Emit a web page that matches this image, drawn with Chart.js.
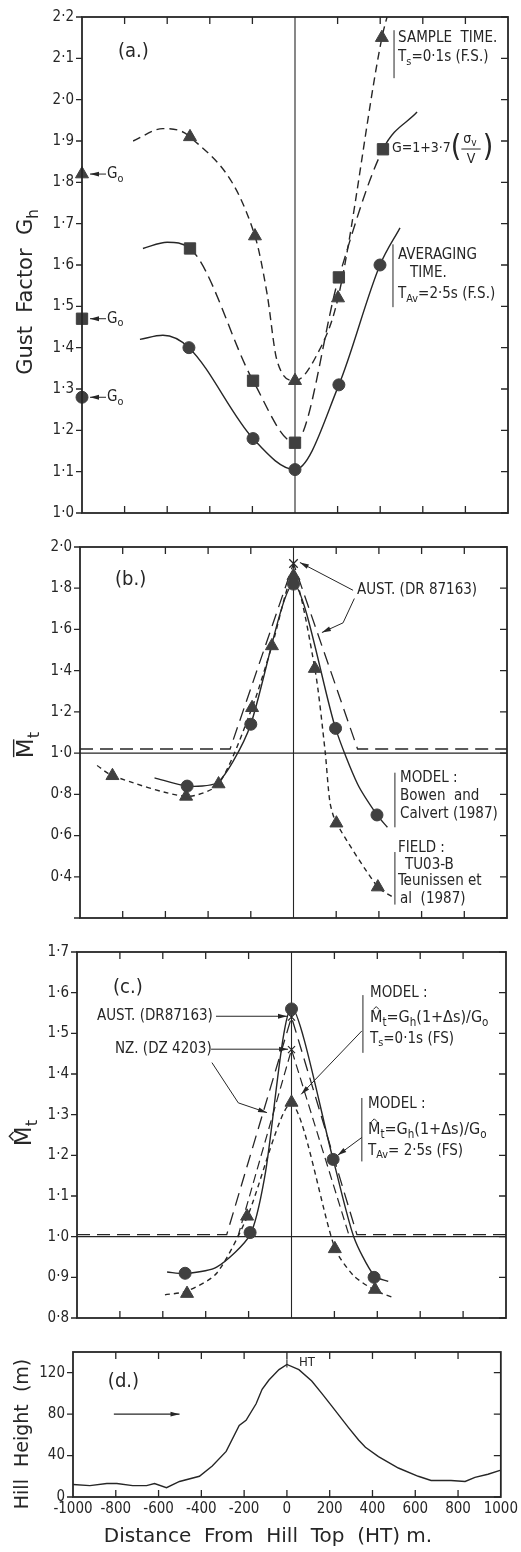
<!DOCTYPE html>
<html>
<head>
<meta charset="utf-8">
<script src="https://cdn.jsdelivr.net/npm/chart.js@4"></script>
<style>
  html, body { margin: 0; padding: 0; background: #fff; }
  #wrap { position: relative; width: 521px; height: 1552px; overflow: hidden; }
  #wrap canvas { position: absolute; left: 0; }
</style>
</head>
<body>
<div id="wrap">
  <canvas id="pa" width="521" height="530" style="top:0px"></canvas>
  <canvas id="pb" width="521" height="405" style="top:530px"></canvas>
  <canvas id="pc" width="521" height="400" style="top:935px"></canvas>
  <canvas id="pd" width="521" height="217" style="top:1335px"></canvas>
</div>
<script>
// distance from hill top (m), shared by all four panels
const distTicks = [-1000, -800, -600, -400, -200, 0, 200, 400, 600, 800, 1000];

// (a) gust factor Gh
const aSampleX = [-493, -188, 0, 202, 408];          // triangles, Ts = 0.1 s
const aSampleY = [1.91, 1.67, 1.32, 1.52, 2.15];
const aSampleCurve = [[-760, 1.90], [-620, 1.93], [-493, 1.91], [-188, 1.67], [-131, 1.53], [-85, 1.37],
  [0, 1.32], [100, 1.38], [202, 1.52], [408, 2.15], [432, 2.20]];
const aGustX = [-493, -197, 0, 206, 413];            // squares, G = 1 + 3.7 sv/V
const aGustY = [1.64, 1.32, 1.17, 1.57, 1.88];
const aGustCurve = [[-714, 1.64], [-600, 1.655], [-493, 1.64], [-197, 1.32], [0, 1.17], [206, 1.57],
  [413, 1.88], [573, 1.97]];
const aAvgX = [-498, -197, 0, 206, 399];             // circles, TAv = 2.5 s
const aAvgY = [1.40, 1.18, 1.105, 1.31, 1.60];
const aAvgCurve = [[-728, 1.42], [-620, 1.43], [-498, 1.40], [-197, 1.18], [0, 1.105], [206, 1.31],
  [399, 1.60], [493, 1.69]];
const aGo = [1.82, 1.47, 1.28];                      // Go of triangle, square, circle

// (b) mean speed-up Mt
const bModelX = [-498, -200, 0, 197, 391];
const bModelY = [0.84, 1.14, 1.82, 1.12, 0.70];
const bModelCurve = [[-651, 0.88], [-498, 0.84], [-360, 0.855], [-283, 0.96], [-200, 1.14], [0, 1.82],
  [197, 1.12], [300, 0.85], [391, 0.70], [440, 0.64]];
const bFieldX = [-848, -503, -351, -194, -101, 0, 100, 201, 395];
const bFieldY = [0.89, 0.79, 0.85, 1.22, 1.52, 1.86, 1.41, 0.66, 0.35];
const bFieldCurve = [[-920, 0.94], [-848, 0.89], [-503, 0.79], [-351, 0.85], [-194, 1.22], [-101, 1.52],
  [0, 1.86], [100, 1.41], [148, 1.01], [171, 0.76], [201, 0.66], [395, 0.35], [467, 0.30]];
const bAust = [[-1000, 1.02], [-297, 1.02], [0, 1.92], [300, 1.02], [1000, 1.02]];

// (c) gust speed-up Mt hat
const cAvgX = [-496, -193, 0, 194, 385];
const cAvgY = [0.91, 1.01, 1.56, 1.19, 0.90];
const cAvgCurve = [[-580, 0.913], [-496, 0.909], [-349, 0.925], [-193, 1.005], [-124, 1.15], [0, 1.563],
  [194, 1.19], [290, 1.0], [385, 0.904], [451, 0.89]];
const cSampX = [-487, -207, 0, 202, 389];
const cSampY = [0.86, 1.05, 1.33, 0.97, 0.87];
const cSampCurve = [[-590, 0.857], [-487, 0.866], [-349, 0.91], [-207, 1.048], [0, 1.327], [202, 0.972],
  [288, 0.905], [389, 0.868], [474, 0.85]];
const cAust = [[-1000, 1.005], [-302, 1.005], [0, 1.54], [305, 1.005], [1000, 1.005]];
const cNz = [[-250, 1.0], [0, 1.46], [270, 1.0]];

// (d) hill height profile (m)
const dHill = [[-1000, 12], [-921, 11], [-842, 13], [-795, 13], [-721, 11], [-656, 11], [-619, 13], [-563, 9],
  [-502, 15], [-409, 20], [-349, 30], [-284, 44], [-223, 69], [-191, 74], [-144, 90], [-116, 104], [-84, 113],
  [-37, 123], [0, 128], [56, 123], [116, 112], [163, 100], [209, 88], [288, 67], [335, 55], [367, 48],
  [428, 39], [521, 28], [614, 20], [674, 16], [767, 16], [833, 15], [879, 19], [940, 22], [1000, 26]];
const dTicksY = [0, 40, 80, 120];

const INK = '#262626';
const MARK = '#404040';
const FAM = "'DejaVu Sans Condensed', 'DejaVu Sans', sans-serif";
const TFAM = "'DejaVu Sans', sans-serif";
Chart.defaults.font.family = FAM;
Chart.defaults.color = INK;

const pts = arr => arr.map(([x, y]) => ({ x, y }));
const zip = (xs, ys) => xs.map((x, i) => ({ x, y: ys[i] }));
const dec = v => v.toFixed(1).replace('.', '·');
const innerTicks = distTicks.filter(v => Math.abs(v) < 1000 && v !== 0);
const TXT = 15;

function curve(data, dash, extra) {
  return Object.assign({
    data: pts(data), showLine: true, borderColor: INK, borderWidth: 1.4, borderDash: dash,
    pointRadius: 0, fill: false, tension: 0.25
  }, extra);
}
function marks(data, style, r) {
  return { data, showLine: false, pointStyle: style, pointRadius: r, backgroundColor: MARK,
    borderColor: MARK, borderWidth: 1, clip: false };
}

function rich(ctx, x, y, parts, size, align, fam) {
  const family = fam || FAM;
  const fs = p => (p[1] ? size * 0.72 : size) + 'px ' + family;
  const widths = parts.map(p => { ctx.font = fs(p); return ctx.measureText(p[0]).width; });
  const total = widths.reduce((a, b) => a + b, 0);
  let cx = align === 'center' ? x - total / 2 : x;
  ctx.textBaseline = 'middle';
  ctx.textAlign = 'left';
  parts.forEach((p, i) => {
    ctx.font = fs(p);
    ctx.fillText(p[0], cx, y + (p[1] ? size * 0.32 : 0));
    const w = widths[i];
    if (p[2] === 'hat') {
      ctx.beginPath();
      ctx.moveTo(cx + w / 2 - size * 0.18, y - size * 0.5);
      ctx.lineTo(cx + w / 2, y - size * 0.68);
      ctx.lineTo(cx + w / 2 + size * 0.18, y - size * 0.5);
      ctx.stroke();
    } else if (p[2] === 'bar') {
      ctx.beginPath();
      ctx.moveTo(cx + 1, y - size * 0.58);
      ctx.lineTo(cx + w - 1, y - size * 0.58);
      ctx.stroke();
    }
    cx += w;
  });
  return total;
}

function yTitle(ctx, cx, cy, parts, size) {
  ctx.save();
  ctx.translate(cx, cy);
  ctx.rotate(-Math.PI / 2);
  ctx.lineWidth = 1.4;
  rich(ctx, 0, 0, parts, size, 'center', TFAM);
  ctx.restore();
}

function arrow(ctx, x1, y1, x2, y2) {
  ctx.beginPath(); ctx.moveTo(x1, y1); ctx.lineTo(x2, y2); ctx.stroke();
  const a = Math.atan2(y2 - y1, x2 - x1), L = 9, W = 2.4;
  ctx.beginPath();
  ctx.moveTo(x2, y2);
  ctx.lineTo(x2 - L * Math.cos(a) + W * Math.sin(a), y2 - L * Math.sin(a) - W * Math.cos(a));
  ctx.lineTo(x2 - L * Math.cos(a) - W * Math.sin(a), y2 - L * Math.sin(a) + W * Math.cos(a));
  ctx.closePath(); ctx.fill();
}
function leader(ctx, path) {
  ctx.beginPath();
  ctx.moveTo(path[0][0], path[0][1]);
  for (let i = 1; i < path.length - 1; i++) ctx.lineTo(path[i][0], path[i][1]);
  ctx.stroke();
  const n = path.length;
  arrow(ctx, path[n - 2][0], path[n - 2][1], path[n - 1][0], path[n - 1][1]);
}
function vbar(ctx, x, y1, y2) {
  ctx.beginPath(); ctx.moveTo(x, y1); ctx.lineTo(x, y2); ctx.stroke();
}

function frameAndTicks(chart, xVals, yVals) {
  const { ctx, chartArea: a, scales: { x, y } } = chart;
  ctx.save();
  ctx.strokeStyle = INK;
  ctx.lineWidth = 1.3;
  ctx.beginPath();
  yVals.forEach(v => {
    const py = y.getPixelForValue(v);
    ctx.moveTo(a.left - 6, py); ctx.lineTo(a.left, py);
    ctx.moveTo(a.right, py); ctx.lineTo(a.right - 7, py);
  });
  xVals.forEach(v => {
    const px = x.getPixelForValue(v);
    ctx.moveTo(px, a.top); ctx.lineTo(px, a.top + 7);
    ctx.moveTo(px, a.bottom); ctx.lineTo(px, a.bottom - 7);
  });
  ctx.stroke();
  ctx.lineWidth = 1.8;
  ctx.strokeRect(a.left, a.top, a.right - a.left, a.bottom - a.top);
  ctx.restore();
}

function refLines(chart, horiz) {
  const { ctx, chartArea: a, scales: { x, y } } = chart;
  ctx.save();
  ctx.strokeStyle = INK;
  ctx.lineWidth = 1.1;
  ctx.beginPath();
  const px = x.getPixelForValue(0);
  ctx.moveTo(px, a.top); ctx.lineTo(px, a.bottom);
  if (horiz !== undefined) {
    const py = y.getPixelForValue(horiz);
    ctx.moveTo(a.left, py); ctx.lineTo(a.right, py);
  }
  ctx.stroke();
  ctx.restore();
}

function baseOpts(cfg) {
  return {
    responsive: false, animation: false, events: [],
    layout: { padding: { left: 0, top: cfg.top, right: cfg.right, bottom: cfg.bottom } },
    plugins: { legend: { display: false }, tooltip: { enabled: false } },
    scales: {
      x: cfg.x || { type: 'linear', min: -1000, max: 1000, display: false },
      y: {
        type: 'linear', min: cfg.ymin, max: cfg.ymax,
        afterFit: s => { s.width = cfg.left; },
        grid: { display: false, drawTicks: false }, border: { display: false },
        ticks: { stepSize: cfg.step, padding: 8, color: INK, font: { size: 15 }, callback: cfg.fmt }
      }
    }
  };
}

// ---------- (a) ----------
new Chart(document.getElementById('pa'), {
  type: 'scatter',
  data: {
    datasets: [
      marks(zip(aSampleX, aSampleY), 'triangle', 7.5),
      marks(zip(aGustX, aGustY), 'rect', 8),
      marks(zip(aAvgX, aAvgY), 'circle', 6),
      marks(aGo.slice(0, 1).map(v => ({ x: -1000, y: v })), 'triangle', 7.5),
      marks(aGo.slice(1, 2).map(v => ({ x: -1000, y: v })), 'rect', 8),
      marks(aGo.slice(2, 3).map(v => ({ x: -1000, y: v })), 'circle', 6),
      curve(aSampleCurve, [8, 5], { cubicInterpolationMode: 'monotone' }),
      curve(aGustCurve, [11, 6], {
        cubicInterpolationMode: 'monotone',
        segment: { borderDash: c => (c.p0.parsed.x < -495 || c.p0.parsed.x > 410) ? [] : [11, 6] }
      }),
      curve(aAvgCurve, [], { cubicInterpolationMode: 'monotone' })
    ]
  },
  options: baseOpts({ top: 12, right: 13, bottom: 15, left: 82, ymin: 1.0, ymax: 2.2, step: 0.1, fmt: dec }),
  plugins: [{
    id: 'decoA',
    beforeDatasetsDraw: chart => refLines(chart),
    afterDraw(chart) {
      const { ctx, scales: { x, y } } = chart;
      const X = v => x.getPixelForValue(v), Y = v => y.getPixelForValue(v);
      frameAndTicks(chart, innerTicks, y.ticks.map(t => t.value));
      ctx.save();
      ctx.fillStyle = INK; ctx.strokeStyle = INK; ctx.lineWidth = 1;
      rich(ctx, X(-831), Y(2.115), [['(a.)']], 20);
      vbar(ctx, X(465), Y(2.168), Y(2.052));
      rich(ctx, X(484), Y(2.15), [['SAMPLE  TIME.']], TXT);
      rich(ctx, X(484), Y(2.103), [['T'], ['s', 1], ['=0·1s (F.S.)']], TXT);
      // G = 1 + 3.7 (sigma_v / V)
      let gx = X(455);
      const gy = Y(1.883);
      gx += rich(ctx, gx, gy, [['G=1+3·7']], 14);
      gx += rich(ctx, gx, gy, [['(']], 30);
      ctx.font = '13px ' + FAM;
      const fw = ctx.measureText('σv').width + 5;
      rich(ctx, gx + 2, gy - 9, [['σ'], ['v', 1]], 14);
      ctx.beginPath(); ctx.moveTo(gx, gy + 1); ctx.lineTo(gx + fw, gy + 1); ctx.stroke();
      rich(ctx, gx + fw / 2, gy + 11, [['V']], 14, 'center');
      rich(ctx, gx + fw + 2, gy, [[')']], 30);
      vbar(ctx, X(460), Y(1.65), Y(1.498));
      rich(ctx, X(484), Y(1.623), [['AVERAGING']], TXT);
      rich(ctx, X(540), Y(1.58), [['TIME.']], TXT);
      rich(ctx, X(484), Y(1.53), [['T'], ['Av', 1], ['=2·5s (F.S.)']], TXT);
      aGo.forEach(v => {
        const px = X(-1000), py = Y(v);
        arrow(ctx, px + 24, py, px + 8, py);
        rich(ctx, px + 25, py, [['G'], ['o', 1]], TXT);
      });
      yTitle(ctx, 27, 292, [['Gust  Factor  G'], ['h', 1]], 21);
      ctx.restore();
    }
  }]
});

// ---------- (b) ----------
new Chart(document.getElementById('pb'), {
  type: 'scatter',
  data: {
    datasets: [
      marks(zip(bModelX, bModelY), 'circle', 6),
      marks(zip(bFieldX, bFieldY), 'triangle', 7.5),
      Object.assign(marks([{ x: 0, y: bAust[2][1] }], 'crossRot', 6), { borderColor: INK, borderWidth: 1.3 }),
      curve(bModelCurve, []),
      curve(bFieldCurve, [5, 4]),
      curve(bAust, [13, 7], { tension: 0, borderWidth: 1.3 })
    ]
  },
  options: baseOpts({ top: 9, right: 14, bottom: 12, left: 80, ymin: 0.2, ymax: 2.0, step: 0.2,
    fmt: v => (v < 0.3 ? '' : dec(v)) }),
  plugins: [{
    id: 'decoB',
    beforeDatasetsDraw: chart => refLines(chart, 1.0),
    afterDraw(chart) {
      const { ctx, scales: { x, y } } = chart;
      const X = v => x.getPixelForValue(v), Y = v => y.getPixelForValue(v);
      frameAndTicks(chart, innerTicks, y.ticks.map(t => t.value));
      ctx.save();
      ctx.fillStyle = INK; ctx.strokeStyle = INK; ctx.lineWidth = 1;
      rich(ctx, X(-836), Y(1.84), [['(b.)']], 20);
      rich(ctx, X(297), Y(1.79), [['AUST. (DR 87163)']], TXT);
      arrow(ctx, X(279), Y(1.79), X(30), Y(1.925));
      leader(ctx, [[X(285), Y(1.75)], [X(232), Y(1.632)], [X(133), Y(1.585)]]);
      vbar(ctx, X(475), Y(0.905), Y(0.64));
      rich(ctx, X(499), Y(0.878), [['MODEL :']], TXT);
      rich(ctx, X(499), Y(0.79), [['Bowen  and']], TXT);
      rich(ctx, X(499), Y(0.705), [['Calvert (1987)']], TXT);
      vbar(ctx, X(475), Y(0.52), Y(0.265));
      rich(ctx, X(489), Y(0.541), [['FIELD :']], TXT);
      rich(ctx, X(522), Y(0.457), [['TU03-B']], TXT);
      rich(ctx, X(489), Y(0.377), [['Teunissen et']], TXT);
      rich(ctx, X(499), Y(0.293), [['al  (1987)']], TXT);
      yTitle(ctx, 27, 215, [['M', 0, 'bar'], ['t', 1]], 23);
      ctx.restore();
    }
  }]
});

// ---------- (c) ----------
new Chart(document.getElementById('pc'), {
  type: 'scatter',
  data: {
    datasets: [
      marks(zip(cAvgX, cAvgY), 'circle', 6),
      marks(zip(cSampX, cSampY), 'triangle', 7.5),
      Object.assign(marks([{ x: 0, y: cAust[2][1] }, { x: 0, y: cNz[1][1] }], 'crossRot', 5),
        { borderColor: INK, borderWidth: 1.2 }),
      curve(cAvgCurve, []),
      curve(cSampCurve, [5, 4]),
      curve(cAust, [13, 7], { tension: 0, borderWidth: 1.3 }),
      curve(cNz, [9, 5], { tension: 0, borderWidth: 1.2 })
    ]
  },
  options: baseOpts({ top: 10, right: 15, bottom: 9, left: 77, ymin: 0.8, ymax: 1.7, step: 0.1, fmt: dec }),
  plugins: [{
    id: 'decoC',
    beforeDatasetsDraw: chart => refLines(chart, 1.0),
    afterDraw(chart) {
      const { ctx, scales: { x, y } } = chart;
      const X = v => x.getPixelForValue(v), Y = v => y.getPixelForValue(v);
      frameAndTicks(chart, innerTicks, y.ticks.map(t => t.value));
      ctx.save();
      ctx.fillStyle = INK; ctx.strokeStyle = INK; ctx.lineWidth = 1;
      rich(ctx, X(-832), Y(1.613), [['(c.)']], 20);
      rich(ctx, X(-907), Y(1.542), [['AUST. (DR87163)']], TXT);
      arrow(ctx, X(-352), Y(1.542), X(-21), Y(1.542));
      rich(ctx, X(-823), Y(1.461), [['NZ. (DZ 4203)']], TXT);
      arrow(ctx, X(-375), Y(1.461), X(-16), Y(1.461));
      leader(ctx, [[X(-371), Y(1.428)], [X(-248), Y(1.329)], [X(-114), Y(1.305)]]);
      const formula = [['M', 0, 'hat'], ['t', 1], ['=G'], ['h', 1], ['(1+Δs)/G'], ['o', 1]];
      vbar(ctx, X(333), Y(1.594), Y(1.452));
      rich(ctx, X(366), Y(1.598), [['MODEL :']], TXT);
      rich(ctx, X(366), Y(1.539), formula, 16);
      rich(ctx, X(366), Y(1.487), [['T'], ['s', 1], ['=0·1s (FS)']], TXT);
      arrow(ctx, X(328), Y(1.506), X(45), Y(1.35));
      vbar(ctx, X(328), Y(1.341), Y(1.185));
      rich(ctx, X(357), Y(1.327), [['MODEL :']], TXT);
      rich(ctx, X(357), Y(1.263), formula, 16);
      rich(ctx, X(357), Y(1.211), [['T'], ['Av', 1], ['= 2·5s (FS)']], TXT);
      arrow(ctx, X(328), Y(1.244), X(215), Y(1.20));
      yTitle(ctx, 25, 198, [['M', 0, 'hat'], ['t', 1]], 23);
      ctx.restore();
    }
  }]
});

// ---------- (d) ----------
new Chart(document.getElementById('pd'), {
  type: 'scatter',
  data: {
    datasets: [curve(dHill, [], { tension: 0, borderWidth: 1.4 })]
  },
  options: baseOpts({
    top: 12, right: 18, bottom: 0, left: 73, ymin: 0, ymax: 140, step: 40,
    fmt: v => (dTicksY.includes(v) ? String(v) : ''),
    x: {
      type: 'linear', min: -1000, max: 1000,
      afterFit: s => { s.height = 55; },
      grid: { display: false, drawTicks: false }, border: { display: false },
      ticks: { stepSize: 200, padding: 3, autoSkip: false, maxRotation: 0, color: INK,
        font: { size: 15 }, callback: v => String(v) }
    }
  }),
  plugins: [{
    id: 'decoD',
    afterDraw(chart) {
      const { ctx, scales: { x, y } } = chart;
      const X = v => x.getPixelForValue(v), Y = v => y.getPixelForValue(v);
      frameAndTicks(chart, distTicks.filter(v => Math.abs(v) < 1000), dTicksY);
      ctx.save();
      ctx.fillStyle = INK; ctx.strokeStyle = INK; ctx.lineWidth = 1.1;
      rich(ctx, X(-837), Y(111), [['(d.)']], 20);
      rich(ctx, X(56), Y(130), [['HT']], 13);
      vbar(ctx, X(0), Y(125), Y(133));
      arrow(ctx, X(-809), Y(80), X(-502), Y(80));
      yTitle(ctx, 23, 99, [['Hill  Height  (m)']], 19);
      rich(ctx, 268, 202, [['Distance  From  Hill  Top  (HT) m.']], 20, 'center', TFAM);
      ctx.restore();
    }
  }]
});
</script>
</body>
</html>
